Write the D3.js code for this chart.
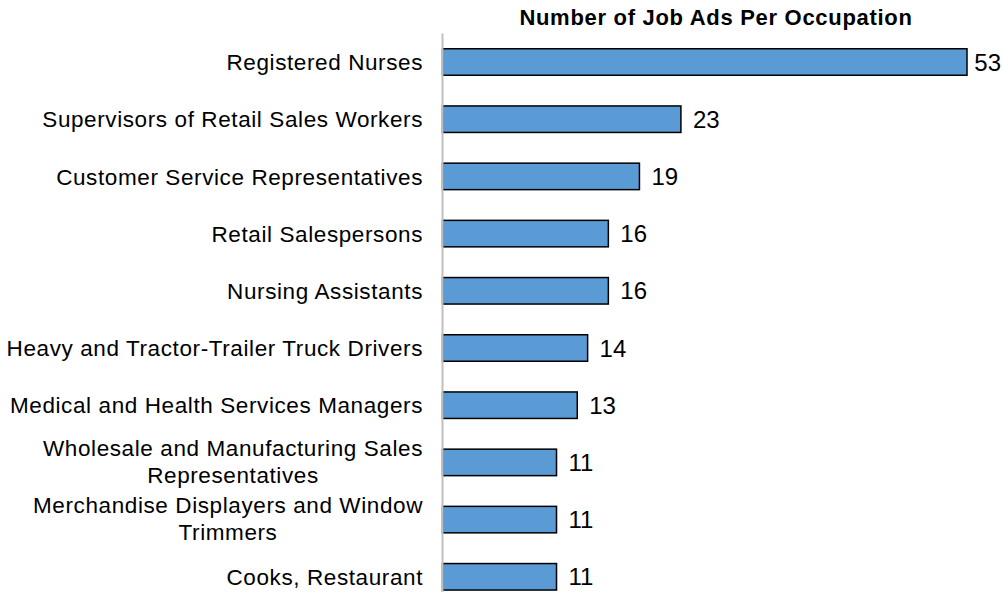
<!DOCTYPE html>
<html>
<head>
<meta charset="utf-8">
<script src="https://cdn.jsdelivr.net/npm/d3@7"></script>
<style>
  html, body { margin: 0; padding: 0; background: #fff; }
  svg { display: block; font-family: "Liberation Sans", Arial, sans-serif; }
</style>
</head>
<body>
<svg id="chart" width="1003" height="592"></svg>
<script>
// ---- data ----
const chartTitle = "Number of Job Ads Per Occupation";
const categories = [
  ["Registered Nurses"],
  ["Supervisors of Retail Sales Workers"],
  ["Customer Service Representatives"],
  ["Retail Salespersons"],
  ["Nursing Assistants"],
  ["Heavy and Tractor-Trailer Truck Drivers"],
  ["Medical and Health Services Managers"],
  ["Wholesale and Manufacturing Sales", "Representatives"],
  ["Merchandise Displayers and Window", "Trimmers"],
  ["Cooks, Restaurant"]
];
const values = [53, 23, 19, 16, 16, 14, 13, 11, 11, 11];
const axisMax = 50.6; // axis maximum of the original chart (largest bar is cut at the plot edge)

// ---- layout ----
const W = 1003, H = 592;
const svg = d3.select("#chart");
const plotLeft = 442.5, plotRight = 967, plotTop = 33.4, plotBottom = 605.4;

const x = d3.scaleLinear().domain([0, axisMax]).range([plotLeft, plotRight]).clamp(true);
const y = d3.scaleBand()
  .domain(d3.range(values.length))
  .range([plotTop, plotBottom])
  .paddingInner(0.537)
  .paddingOuter(0.2685);

// title
svg.append("text")
  .attr("x", 716).attr("y", 25)
  .attr("text-anchor", "middle")
  .style("font-size", "22px").style("font-weight", "bold")
  .style("letter-spacing", "0.7px")
  .attr("fill", "#000")
  .text(chartTitle);

// bars
svg.append("g").selectAll("rect").data(values).join("rect")
  .attr("x", x(0))
  .attr("y", (d, i) => y(i))
  .attr("width", d => x(d) - x(0))
  .attr("height", y.bandwidth())
  .attr("fill", "#5b9bd5")
  .attr("stroke", "#000")
  .attr("stroke-width", 1.5);

// vertical axis line (category axis)
const yAxis = d3.axisLeft(y).tickSize(0).tickFormat("");
const gAxis = svg.append("g").attr("transform", `translate(${x(0)},0)`).call(yAxis);
gAxis.select(".domain").attr("stroke", "#bfbfbf").attr("stroke-width", 2)
  .attr("d", `M0,${plotTop}V${H}`);

// category labels
const labelRight = 423;
const gLab = svg.append("g").style("font-size", "22.5px").style("letter-spacing", "0.6px");
categories.forEach((lines, i) => {
  const cy = y(i) + y.bandwidth() / 2;
  if (lines.length === 1) {
    gLab.append("text")
      .attr("x", labelRight).attr("y", cy).attr("dy", "0.36em")
      .attr("text-anchor", "end").attr("fill", "#000")
      .text(lines[0]);
  } else {
    const t1 = gLab.append("text")
      .attr("x", labelRight).attr("y", cy - 6.5)
      .attr("text-anchor", "end").attr("fill", "#000")
      .text(lines[0]);
    const w1 = t1.node().getComputedTextLength();
    gLab.append("text")
      .attr("x", labelRight - w1 / 2).attr("y", cy + 20.5)
      .attr("text-anchor", "middle").attr("fill", "#000")
      .text(lines[1]);
  }
});

// value labels
const gVal = svg.append("g").style("font-size", "24px");
values.forEach((v, i) => {
  const cy = y(i) + y.bandwidth() / 2;
  const t = gVal.append("text")
    .attr("y", cy).attr("dy", "0.36em").attr("fill", "#000")
    .text(v);
  const tw = t.node().getComputedTextLength();
  t.attr("x", Math.min(x(v) + 12, W - tw - 2));
});
</script>
</body>
</html>
